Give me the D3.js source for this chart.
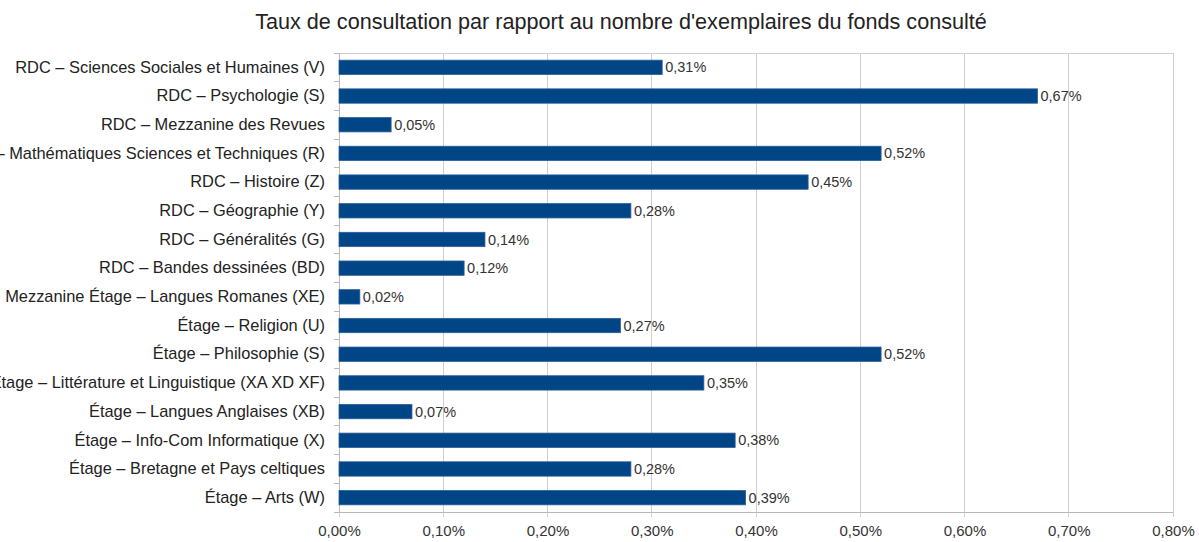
<!DOCTYPE html>
<html><head><meta charset="utf-8">
<script src="https://cdn.jsdelivr.net/npm/d3@7"></script>
<style>body{margin:0;background:#fff}svg{display:block}text{font-family:"Liberation Sans",Arial,sans-serif}</style>
</head><body>
<svg id="c" width="1199" height="542"></svg>
<script>
const title = "Taux de consultation par rapport au nombre d'exemplaires du fonds consulté";
const categories = [
  "RDC – Sciences Sociales et Humaines (V)",
  "RDC – Psychologie (S)",
  "RDC – Mezzanine des Revues",
  "RDC – Mathématiques Sciences et Techniques (R)",
  "RDC – Histoire (Z)",
  "RDC – Géographie (Y)",
  "RDC – Généralités (G)",
  "RDC – Bandes dessinées (BD)",
  "Mezzanine Étage – Langues Romanes (XE)",
  "Étage – Religion (U)",
  "Étage – Philosophie (S)",
  "Étage – Littérature et Linguistique (XA XD XF)",
  "Étage – Langues Anglaises (XB)",
  "Étage – Info-Com Informatique (X)",
  "Étage – Bretagne et Pays celtiques",
  "Étage – Arts (W)"
];
const values = [0.31,0.67,0.05,0.52,0.45,0.28,0.14,0.12,0.02,0.27,0.52,0.35,0.07,0.38,0.28,0.39];
const xTicks = [0,0.1,0.2,0.3,0.4,0.5,0.6,0.7,0.8];

const svg = d3.select("#c");
const m = {left:339, right:1173, top:53, bottom:512};
const x = d3.scaleLinear().domain([0,0.8]).range([m.left,m.right]);
const y = d3.scaleBand().domain(categories).range([m.top,m.bottom]).paddingInner(0.5).paddingOuter(0.25);
const fmt = v => d3.format(".2f")(v).replace(".", ",") + "%";

svg.append("text").attr("x",621).attr("y",29).attr("text-anchor","middle")
  .attr("font-size",21.6).attr("fill","#222").text(title);

// grid
svg.append("g").selectAll("line").data(xTicks).join("line")
  .attr("x1",d=>x(d)).attr("x2",d=>x(d)).attr("y1",m.top).attr("y2",m.bottom+5)
  .attr("stroke","#cfcfcf").attr("stroke-width",1).attr("shape-rendering","crispEdges");
svg.append("line").attr("x1",m.left).attr("x2",m.right).attr("y1",m.top).attr("y2",m.top)
  .attr("stroke","#cfcfcf").attr("shape-rendering","crispEdges");
svg.append("line").attr("x1",m.left-5).attr("x2",m.right).attr("y1",m.bottom).attr("y2",m.bottom)
  .attr("stroke","#b8b8b8").attr("shape-rendering","crispEdges");

// x axis labels
const xa = svg.append("g").attr("transform",`translate(0,${m.bottom})`)
  .call(d3.axisBottom(x).tickValues(xTicks).tickSize(0).tickPadding(13).tickFormat(fmt));
xa.select(".domain").remove();
xa.selectAll("text").attr("font-size",15).attr("fill","#333").attr("font-family","Liberation Sans, Arial, sans-serif");

// y axis
svg.append("g").selectAll("line").data(d3.range(categories.length+1)).join("line")
  .attr("x1",m.left-5).attr("x2",m.left).attr("y1",i=>m.top+i*(m.bottom-m.top)/categories.length)
  .attr("y2",i=>m.top+i*(m.bottom-m.top)/categories.length)
  .attr("stroke","#b8b8b8").attr("shape-rendering","crispEdges");
svg.append("line").attr("x1",m.left).attr("x2",m.left).attr("y1",m.top).attr("y2",m.bottom)
  .attr("stroke","#b8b8b8").attr("shape-rendering","crispEdges");
const ya = svg.append("g").attr("transform",`translate(${m.left},0)`)
  .call(d3.axisLeft(y).tickSize(0).tickPadding(14));
ya.select(".domain").remove();
ya.selectAll("text").attr("font-size",16.4).attr("fill","#222").attr("font-family","Liberation Sans, Arial, sans-serif");

// bars
svg.append("g").selectAll("rect").data(values).join("rect")
  .attr("x",x(0)).attr("y",(d,i)=>y(categories[i]))
  .attr("width",d=>x(d)-x(0)).attr("height",y.bandwidth())
  .attr("fill","#004586").attr("stroke","#2a5f9a").attr("stroke-width",0.8);

svg.append("g").selectAll("text").data(values).join("text")
  .attr("x",d=>x(d)+3).attr("y",(d,i)=>y(categories[i])+y.bandwidth()/2)
  .attr("dy","0.35em").attr("font-size",14.5).attr("fill","#333").text(fmt);
</script>
</body></html>
